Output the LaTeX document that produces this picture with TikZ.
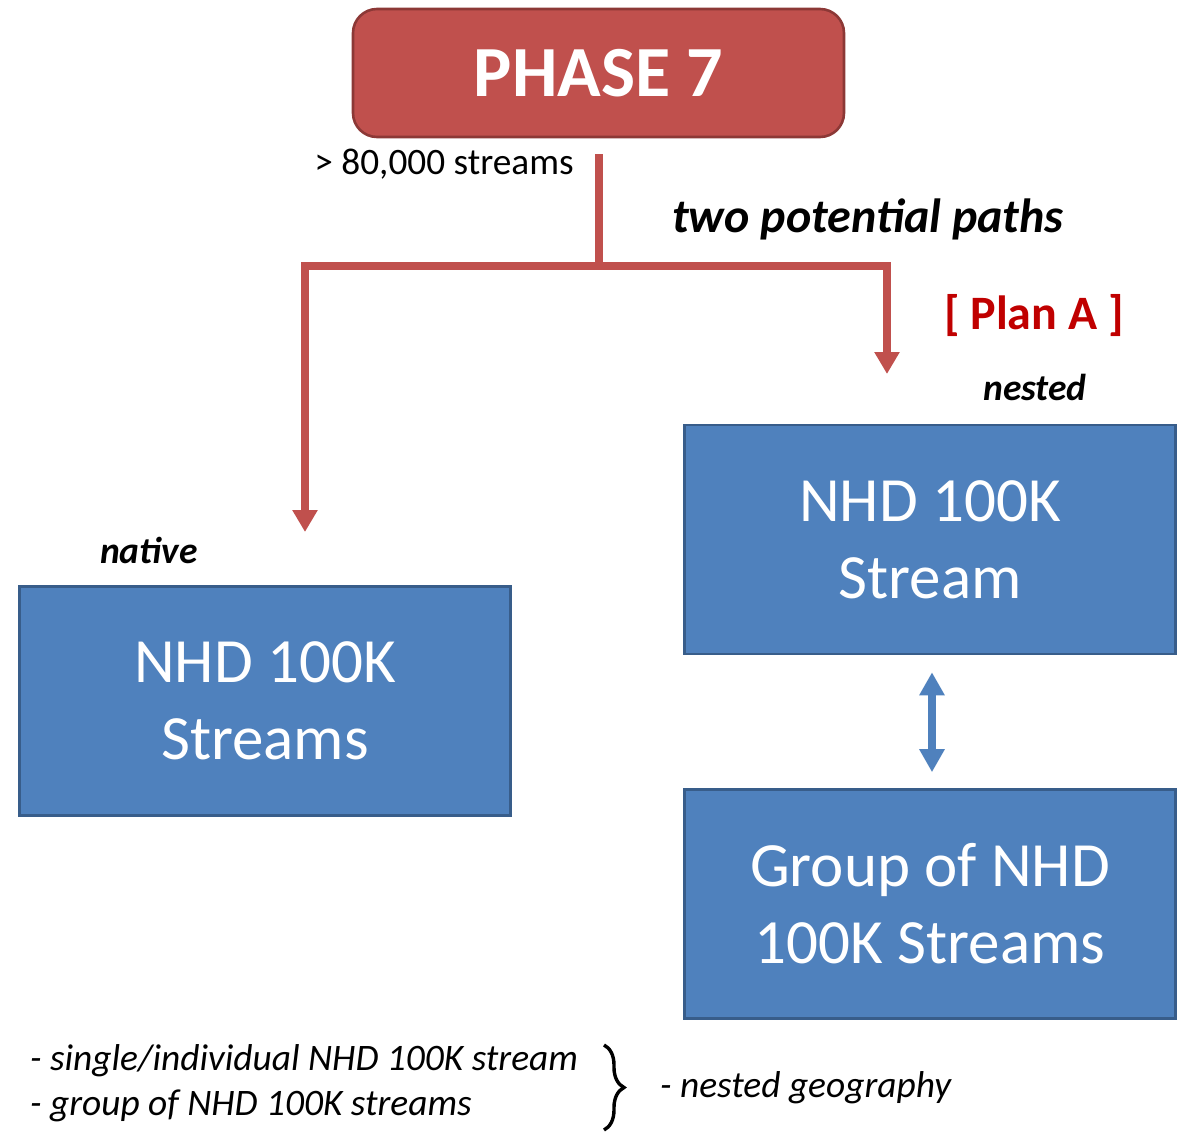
\documentclass[tikz,border=0pt]{standalone}
\usepackage{fontspec}
\setmainfont{Carlito}
\usetikzlibrary{arrows.meta,decorations.pathreplacing}
\definecolor{brick}{HTML}{C0504D}
\definecolor{brickdark}{HTML}{8C3836}
\definecolor{steel}{HTML}{4F81BD}
\definecolor{steeldark}{HTML}{385D8A}
\definecolor{planred}{HTML}{C00000}

\begin{document}
\begin{tikzpicture}[
  x=1pt,
  y=-1pt,
  phasebox/.style={draw=brickdark,fill=brick,line width=2.6pt,rounded corners=24pt,
    minimum width=491pt,minimum height=128pt,text=white,
    font=\fontsize{72}{86}\selectfont\bfseries},
  streambox/.style={draw=steeldark,fill=steel,line width=2.6pt,
    minimum width=491pt,minimum height=229pt,text=white,align=center,
    font=\fontsize{63}{77}\selectfont},
  redpath/.style={brick,line width=8pt},
  redtip/.style={-{Triangle[width=24pt,length=22pt]}},
  bluelink/.style={steel,line width=8pt,
    {Triangle[width=24pt,length=23pt]}-{Triangle[width=24pt,length=23pt]}},
  tag/.style={inner sep=0pt,anchor=base,font=\fontsize{37.5}{45}\selectfont\bfseries\itshape},
  note/.style={inner sep=0pt,anchor=base west,font=\fontsize{37.4}{45}\selectfont\itshape}
]
\useasboundingbox (0,0) rectangle (1179,1132);

% Top phase box
\node[phasebox] (phase) at (598.5,73) {PHASE 7};
\node[inner sep=0pt,anchor=base,font=\fontsize{37.3}{45}\selectfont] (count)
  at (444,174) {> 80,000 streams};

% Stream boxes
\node[streambox] (native) at (265,701) {NHD 100K\\Streams};
\node[streambox] (nested) at (930,539.5) {NHD 100K\\Stream};
\node[streambox] (group) at (930,904) {Group of NHD\\100K Streams};

% Two paths from the phase box
\coordinate (split) at (598.5,265.5);
\coordinate (nativetip) at (305,532);
\coordinate (nestedtip) at (887,374);
\draw[redpath,shorten <=16pt] (phase.south) -- (split);
\draw[redpath,redtip] (split) -| (nativetip);
\draw[redpath,redtip] (split) -| (nestedtip);

\node[tag,font=\fontsize{48}{58}\selectfont\bfseries\itshape] (paths)
  at (868,232) {two potential paths};
\node[tag,text=planred,font=\fontsize{48}{58}\selectfont\bfseries] (plana)
  at (1034,329) {[ Plan A ]};
\node[tag] (nestedtag) at (1035,400) {nested};
\node[tag] (nativetag) at (149,563) {native};

% Link between nested boxes
\draw[bluelink,shorten <=17pt,shorten >=16pt]
  ([xshift=2pt]nested.south) -- ([xshift=2pt]group.north);

% Notes at the bottom
\node[note] (single) at (30,1070) {- single/individual NHD 100K stream};
\node[note] (groupnote) at (30,1115) {- group of NHD 100K streams};
\draw[line width=3.4pt,decorate,decoration={brace,amplitude=20pt}]
  (604,1045) -- (604,1130);
\node[note] (geo) at (660,1097) {- nested geography};

\end{tikzpicture}
\end{document}
